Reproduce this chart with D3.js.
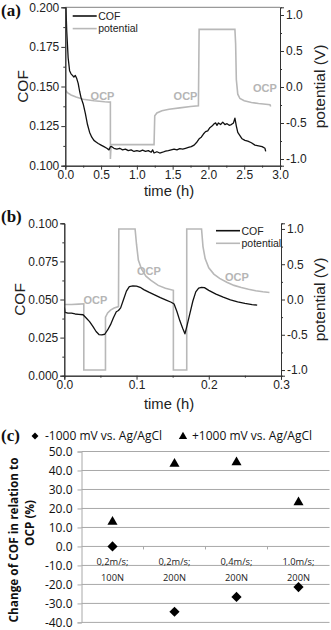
<!DOCTYPE html>
<html>
<head>
<meta charset="utf-8">
<script src="https://cdn.jsdelivr.net/npm/d3@7"></script>
<style>
  body { margin: 0; background: #fff; }
  svg { display: block; }
</style>
</head>
<body>
<div id="viz-container"></div>
<script>
// panel (a): friction and potential vs time
const timeA = [0.005, 0.02, 0.04, 0.06, 0.08, 0.10, 0.12, 0.14, 0.16, 0.18, 0.20, 0.22, 0.25, 0.28, 0.31, 0.34, 0.37, 0.40, 0.43, 0.46, 0.50, 0.54, 0.58, 0.61, 0.63, 0.65, 0.68, 0.72, 0.76, 0.80, 0.84, 0.88, 0.92, 0.96, 1.00, 1.04, 1.08, 1.12, 1.16, 1.20, 1.22, 1.24, 1.28, 1.32, 1.36, 1.40, 1.44, 1.48, 1.52, 1.56, 1.60, 1.64, 1.68, 1.72, 1.76, 1.80, 1.84, 1.87, 1.90, 1.93, 1.96, 1.99, 2.02, 2.05, 2.08, 2.10, 2.12, 2.14, 2.17, 2.20, 2.23, 2.26, 2.29, 2.32, 2.35, 2.37, 2.39, 2.41, 2.44, 2.47, 2.51, 2.55, 2.60, 2.65, 2.70, 2.75, 2.79, 2.80];
const cofA = [0.205, 0.185, 0.168, 0.160, 0.158, 0.157, 0.156, 0.157, 0.155, 0.152, 0.147, 0.143, 0.139, 0.133, 0.126, 0.121, 0.118, 0.116, 0.115, 0.114, 0.113, 0.112, 0.111, 0.110, 0.112, 0.112, 0.111, 0.1105, 0.111, 0.110, 0.1105, 0.1095, 0.110, 0.109, 0.1095, 0.109, 0.1098, 0.109, 0.1095, 0.1085, 0.110, 0.108, 0.1088, 0.108, 0.1085, 0.1092, 0.1095, 0.110, 0.1105, 0.110, 0.1108, 0.1105, 0.111, 0.1115, 0.112, 0.113, 0.115, 0.117, 0.118, 0.120, 0.1215, 0.122, 0.124, 0.125, 0.1265, 0.127, 0.1255, 0.127, 0.126, 0.1275, 0.126, 0.1265, 0.1255, 0.126, 0.127, 0.130, 0.125, 0.121, 0.119, 0.117, 0.116, 0.1155, 0.1145, 0.113, 0.1125, 0.112, 0.111, 0.109];
const potTimeA = [0.00, 0.00, 0.03, 0.08, 0.15, 0.25, 0.40, 0.55, 0.63, 0.63, 0.64, 1.24, 1.25, 1.28, 1.35, 1.45, 1.60, 1.75, 1.86, 1.87, 2.37, 2.38, 2.39, 2.41, 2.44, 2.50, 2.60, 2.70, 2.80, 2.86, 2.87];
const potA = [-0.32, -0.04, -0.08, -0.11, -0.14, -0.17, -0.19, -0.205, -0.21, -1.0, -0.80, -0.80, -0.40, -0.36, -0.33, -0.31, -0.29, -0.27, -0.26, 0.80, 0.80, 0.60, 0.10, -0.10, -0.16, -0.19, -0.215, -0.23, -0.24, -0.245, -0.27];
const ocpA = [[0.52, -0.12], [1.68, -0.12], [2.79, -0.02]];

// panel (b)
const timeB = [0.000, 0.001, 0.005, 0.010, 0.015, 0.020, 0.026, 0.030, 0.035, 0.040, 0.044, 0.048, 0.052, 0.056, 0.060, 0.064, 0.068, 0.072, 0.075, 0.078, 0.082, 0.086, 0.090, 0.095, 0.100, 0.105, 0.110, 0.117, 0.125, 0.133, 0.141, 0.148, 0.152, 0.156, 0.160, 0.164, 0.167, 0.170, 0.174, 0.178, 0.182, 0.186, 0.190, 0.194, 0.200, 0.210, 0.220, 0.230, 0.240, 0.250, 0.260, 0.267];
const cofB = [0.045, 0.0415, 0.041, 0.041, 0.0405, 0.0403, 0.040, 0.038, 0.0355, 0.032, 0.029, 0.027, 0.0268, 0.0272, 0.030, 0.0335, 0.038, 0.042, 0.0428, 0.0445, 0.050, 0.0555, 0.0585, 0.059, 0.0588, 0.058, 0.0565, 0.0548, 0.053, 0.0512, 0.0496, 0.0482, 0.047, 0.042, 0.036, 0.031, 0.0275, 0.033, 0.041, 0.049, 0.055, 0.0575, 0.058, 0.0578, 0.056, 0.0535, 0.0515, 0.0498, 0.0485, 0.0475, 0.0467, 0.0463];
const potTimeB = [0.000, 0.010, 0.020, 0.027, 0.027, 0.057, 0.057, 0.060, 0.064, 0.069, 0.075, 0.0755, 0.098, 0.100, 0.1025, 0.107, 0.113, 0.120, 0.130, 0.140, 0.151, 0.151, 0.1695, 0.1695, 0.190, 0.192, 0.195, 0.200, 0.207, 0.215, 0.225, 0.235, 0.245, 0.255, 0.265, 0.275, 0.284];
const potB = [-0.07, -0.07, -0.065, -0.06, -1.0, -1.0, -0.25, -0.19, -0.15, -0.12, -0.10, 1.0, 1.0, 0.78, 0.56, 0.43, 0.33, 0.27, 0.20, 0.16, 0.13, -1.0, -1.0, 1.0, 1.0, 0.75, 0.58, 0.45, 0.36, 0.30, 0.245, 0.20, 0.17, 0.145, 0.125, 0.11, 0.10];
const ocpB = [[0.043, 0.0], [0.117, 0.40], [0.239, 0.32]];

// panel (c)
const conditions = [["0,2m/s;", "100N"], ["0,2m/s;", "200N"], ["0,4m/s;", "200N"], ["1.0m/s;", "200N"]];
const changeNeg = [0.0, -34.4, -26.6, -21.4];
const changePos = [13.0, 43.5, 44.3, 23.2];
const changeTicks = [50, 40, 30, 20, 10, 0, -10, -20, -30, -40];

const W = 331, H = 630;
const svg = d3.select("#viz-container").append("svg")
  .attr("width", W).attr("height", H)
  .style("font-family", "'Liberation Sans', Arial, sans-serif");

const fmtDash = f => d => d3.format(f)(d).replace("\u2212", "-");
const black = "#111", gray = "#b8b8b8", axisCol = "#333";

function dualPanel(o) {
  const x = d3.scaleLinear().domain(o.xDomain).range([o.left, o.right]);
  const y = d3.scaleLinear().domain(o.cofDomain).range([o.bottom, o.top]);
  const y2 = d3.scaleLinear().domain(o.potDomain).range([o.bottom, o.top]);
  const g = svg.append("g");

  const clipId = "clip" + o.name;
  svg.append("clipPath").attr("id", clipId).append("rect")
    .attr("x", o.left).attr("y", o.top)
    .attr("width", o.right - o.left).attr("height", o.bottom - o.top);

  if (o.frameTop) {
    g.append("line").attr("x1", o.left).attr("x2", o.right)
      .attr("y1", o.top).attr("y2", o.top)
      .attr("stroke", "#9a9a9a").attr("stroke-width", 1.2);
  }

  // potential (grey) under COF
  const potData = o.potT.map((t, i) => [t, o.pot[i]]);
  g.append("path").datum(potData)
    .attr("clip-path", `url(#${clipId})`)
    .attr("fill", "none").attr("stroke", gray).attr("stroke-width", 1.6)
    .attr("d", d3.line().x(d => x(d[0])).y(d => y2(d[1])));

  const cofData = o.t.map((t, i) => [t, o.cof[i]]);
  g.append("path").datum(cofData)
    .attr("clip-path", `url(#${clipId})`)
    .attr("fill", "none").attr("stroke", black).attr("stroke-width", 1.3)
    .attr("stroke-linejoin", "round")
    .attr("d", d3.line().x(d => x(d[0])).y(d => y(d[1])));

  // OCP labels
  g.selectAll("text.ocp").data(o.ocp).join("text")
    .attr("x", d => x(d[0])).attr("y", d => y2(d[1]) + 4)
    .attr("text-anchor", "middle").attr("font-size", 11).attr("font-weight", "bold")
    .attr("fill", "#b5b5b5").text("OCP");

  function styleAxis(sel) {
    sel.selectAll(".domain").attr("stroke", axisCol);
    sel.selectAll(".tick line").attr("stroke", axisCol);
    sel.selectAll("text").attr("fill", "#222").attr("font-size", 12)
      .attr("font-family", "'Liberation Sans', Arial, sans-serif");
  }

  const addAxis = (gen, transform) => g.append("g").attr("transform", transform).call(gen).call(styleAxis);

  // minor ticks first
  addAxis(d3.axisBottom(x).tickValues(o.xMinor).tickSize(2).tickFormat(""), `translate(0,${o.bottom})`);
  addAxis(d3.axisLeft(y).tickValues(o.yMinor).tickSize(2).tickFormat(""), `translate(${o.left},0)`);
  addAxis(d3.axisRight(y2).tickValues(o.potMinor).tickSize(2).tickFormat(""), `translate(${o.right},0)`);

  addAxis(d3.axisBottom(x).tickValues(o.xTicks).tickSize(4).tickPadding(1).tickFormat(fmtDash(".1f")), `translate(0,${o.bottom})`);
  addAxis(d3.axisLeft(y).tickValues(o.yTicks).tickSize(4).tickPadding(2).tickFormat(fmtDash(".3f")), `translate(${o.left},0)`);
  addAxis(d3.axisRight(y2).tickValues(o.potTicks).tickSize(4).tickPadding(2).tickFormat(fmtDash(".1f")), `translate(${o.right},0)`);

  // axis titles
  g.append("text").attr("transform", `translate(${o.cofTitleX},${(o.top + o.bottom) / 2}) rotate(-90)`)
    .attr("text-anchor", "middle").attr("dy", "0.35em").attr("font-size", 15.5).attr("fill", "#222").text("COF");
  g.append("text").attr("transform", `translate(320,${(o.top + o.bottom) / 2}) rotate(-90)`)
    .attr("text-anchor", "middle").attr("dy", "0.35em").attr("font-size", 15.5).attr("fill", "#222").text("potential (V)");
  g.append("text").attr("x", 169).attr("y", o.timeTitleY)
    .attr("text-anchor", "middle").attr("font-size", 14.8).attr("fill", "#222").text("time (h)");

  // panel label
  g.append("text").attr("x", 1).attr("y", o.labelY)
    .attr("font-family", "'Liberation Serif', 'Times New Roman', serif")
    .attr("font-weight", "bold").attr("font-size", 17).attr("fill", "#111").text(o.label);

  // legend
  const lg = g.append("g");
  [["COF", black, 1.6], ["potential", gray, 1.6]].forEach((d, i) => {
    const ly = o.legendY + i * 12.6;
    lg.append("line").attr("x1", o.legendX).attr("x2", o.legendX + 24)
      .attr("y1", ly).attr("y2", ly).attr("stroke", d[1]).attr("stroke-width", d[2]);
    lg.append("text").attr("x", o.legendX + 25.5).attr("y", ly + 3.8)
      .attr("font-size", 10.5).attr("fill", "#222").text(d[0]);
  });
}

const range = (a, b, s) => d3.range(Math.round((b - a) / s) + 1).map(i => +(a + i * s).toFixed(4));

dualPanel({
  name: "a", left: 65.3, right: 280, top: 7.3, bottom: 165.7,
  xDomain: [0, 3], cofDomain: [0.1, 0.2], potDomain: [-1.093, 1.107],
  t: timeA, cof: cofA, potT: potTimeA, pot: potA, ocp: ocpA,
  xTicks: range(0, 3, 0.5), xMinor: range(0.25, 2.75, 0.5),
  yTicks: range(0.1, 0.2, 0.025), yMinor: range(0.1125, 0.1875, 0.025),
  potTicks: range(-1, 1, 0.5), potMinor: range(-0.75, 0.75, 0.5),
  cofTitleX: 23, timeTitleY: 195.5, label: "(a)", labelY: 16,
  legendX: 72.7, legendY: 16, frameTop: true
});

dualPanel({
  name: "b", left: 64.3, right: 281, top: 223.3, bottom: 375.7,
  xDomain: [0, 0.3], cofDomain: [0, 0.1], potDomain: [-1.08, 1.08],
  t: timeB, cof: cofB, potT: potTimeB, pot: potB, ocp: ocpB,
  xTicks: range(0, 0.3, 0.1), xMinor: range(0.05, 0.25, 0.1),
  yTicks: range(0, 0.1, 0.025), yMinor: range(0.0125, 0.0875, 0.025),
  potTicks: range(-1, 1, 0.5), potMinor: range(-0.75, 0.75, 0.5),
  cofTitleX: 20, timeTitleY: 408.5, label: "(b)", labelY: 222,
  legendX: 216, legendY: 230.7, frameTop: false
});

// ---- panel (c): change of COF ----
const cFont = "'Open Sans', 'Noto Sans', sans-serif";
const xc = d3.scaleBand().domain(d3.range(conditions.length)).range([81.5, 329.5]);
const yc = d3.scaleLinear().domain([-40, 50]).range([622.4, 451.5]);
const gc = svg.append("g").style("font-family", cFont);
const gridCol = "#a8a8a8";

gc.append("g").selectAll("line").data(changeTicks.filter(d => d !== 0)).join("line")
  .attr("x1", xc.range()[0]).attr("x2", xc.range()[1])
  .attr("y1", d => yc(d)).attr("y2", d => yc(d))
  .attr("stroke", gridCol).attr("stroke-width", 1);

const yAx = gc.append("g").attr("transform", `translate(${xc.range()[0]},0)`)
  .call(d3.axisLeft(yc).tickValues(changeTicks).tickSize(4).tickPadding(5).tickFormat(fmtDash(".1f")));
yAx.selectAll(".domain, .tick line").attr("stroke", gridCol);
yAx.selectAll("text").attr("font-family", cFont).attr("font-size", 12).attr("dy", "0.3em").attr("fill", "#111");

// category axis on the zero line
const xAx = gc.append("g").attr("transform", `translate(0,${yc(0)})`);
xAx.append("line").attr("x1", xc.range()[0]).attr("x2", xc.range()[1])
  .attr("stroke", gridCol);
xAx.selectAll("line.tk").data(d3.range(1, conditions.length)).join("line")
  .attr("class", "tk")
  .attr("x1", d => xc(d)).attr("x2", d => xc(d)).attr("y1", 0).attr("y2", 3)
  .attr("stroke", gridCol);
conditions.forEach((c, i) => {
  c.forEach((s, j) => {
    xAx.append("text").attr("x", xc(i) + xc.bandwidth() / 2).attr("y", 18.2 + j * 16)
      .attr("text-anchor", "middle").attr("font-size", 9.3).attr("fill", "#222").text(s);
  });
});

const diamond = d3.symbol().type(d3.symbolSquare).size(52);
const triangle = d3.symbol().type(d3.symbolTriangle).size(44);

gc.selectAll("path.neg").data(changeNeg).join("path").attr("class", "neg")
  .attr("d", diamond)
  .attr("transform", (d, i) => `translate(${xc(i) + xc.bandwidth() / 2},${yc(d)}) rotate(45)`)
  .attr("fill", "#000");
gc.selectAll("path.pos").data(changePos).join("path").attr("class", "pos")
  .attr("d", triangle)
  .attr("transform", (d, i) => `translate(${xc(i) + xc.bandwidth() / 2},${yc(d)})`)
  .attr("fill", "#000");

// legend
gc.append("path").attr("d", d3.symbol().type(d3.symbolSquare).size(24))
  .attr("transform", "translate(35,436) rotate(45)").attr("fill", "#000");
gc.append("text").attr("x", 45).attr("y", 439.8).attr("font-size", 12).attr("fill", "#111")
  .text("-1000 mV vs. Ag/AgCl");
gc.append("path").attr("d", d3.symbol().type(d3.symbolTriangle).size(30))
  .attr("transform", "translate(183,436.5)").attr("fill", "#000");
gc.append("text").attr("x", 192).attr("y", 439.8).attr("font-size", 12).attr("fill", "#111")
  .text("+1000 mV vs. Ag/AgCl");

// y title, two lines
gc.append("text").attr("transform", "translate(14,540) rotate(-90)")
  .attr("text-anchor", "middle").attr("dy", "0.35em")
  .attr("font-size", 11.8).attr("font-weight", "bold").attr("fill", "#111")
  .text("Change of COF in relation to");
gc.append("text").attr("transform", "translate(29.5,523) rotate(-90)")
  .attr("text-anchor", "middle").attr("dy", "0.35em")
  .attr("font-size", 11.8).attr("font-weight", "bold").attr("fill", "#111")
  .text("OCP (%)");

gc.append("text").attr("x", 1).attr("y", 441)
  .attr("font-family", "'Liberation Serif', 'Times New Roman', serif")
  .attr("font-weight", "bold").attr("font-size", 17).attr("fill", "#111").text("(c)");
</script>
</body>
</html>
